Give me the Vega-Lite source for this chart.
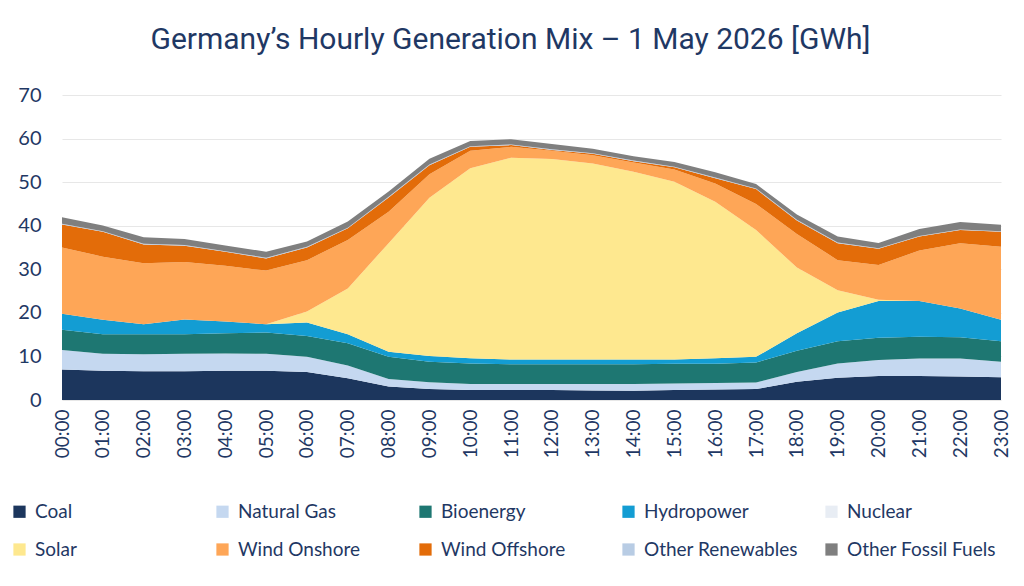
{
  "$schema": "https://vega.github.io/schema/vega-lite/v6.json",
  "width": 939,
  "height": 305,
  "autosize": "none",
  "padding": {"left": 62, "top": 95, "right": 23, "bottom": 186},
  "background": "white",
  "title": {
    "text": "Germany’s Hourly Generation Mix – 1 May 2026 [GWh]",
    "font": "Roboto",
    "fontSize": 30,
    "fontWeight": "normal",
    "color": "#1F3864",
    "anchor": "middle",
    "dx": -21,
    "offset": 30
  },
  "data": {
    "values": [
      {"Hour": "00:00", "Coal": 7.0, "Natural Gas": 4.5, "Bioenergy": 4.6, "Hydropower": 3.7, "Nuclear": 0, "Solar": 0, "Wind Onshore": 15.2, "Wind Offshore": 5.3, "Other Renewables": 0.15, "Other Fossil Fuels": 1.5},
      {"Hour": "01:00", "Coal": 6.7, "Natural Gas": 3.9, "Bioenergy": 4.5, "Hydropower": 3.3, "Nuclear": 0, "Solar": 0, "Wind Onshore": 14.5, "Wind Offshore": 5.7, "Other Renewables": 0.15, "Other Fossil Fuels": 1.3},
      {"Hour": "02:00", "Coal": 6.6, "Natural Gas": 3.9, "Bioenergy": 4.6, "Hydropower": 2.3, "Nuclear": 0, "Solar": 0, "Wind Onshore": 14.0, "Wind Offshore": 4.3, "Other Renewables": 0.15, "Other Fossil Fuels": 1.5},
      {"Hour": "03:00", "Coal": 6.6, "Natural Gas": 4.0, "Bioenergy": 4.5, "Hydropower": 3.4, "Nuclear": 0, "Solar": 0, "Wind Onshore": 13.2, "Wind Offshore": 3.7, "Other Renewables": 0.15, "Other Fossil Fuels": 1.4},
      {"Hour": "04:00", "Coal": 6.7, "Natural Gas": 4.0, "Bioenergy": 4.6, "Hydropower": 2.7, "Nuclear": 0, "Solar": 0, "Wind Onshore": 12.8, "Wind Offshore": 3.2, "Other Renewables": 0.15, "Other Fossil Fuels": 1.3},
      {"Hour": "05:00", "Coal": 6.7, "Natural Gas": 3.9, "Bioenergy": 4.9, "Hydropower": 1.9, "Nuclear": 0, "Solar": 0, "Wind Onshore": 12.3, "Wind Offshore": 2.8, "Other Renewables": 0.15, "Other Fossil Fuels": 1.4},
      {"Hour": "06:00", "Coal": 6.4, "Natural Gas": 3.5, "Bioenergy": 4.8, "Hydropower": 3.1, "Nuclear": 0, "Solar": 2.5, "Wind Onshore": 11.8, "Wind Offshore": 2.9, "Other Renewables": 0.15, "Other Fossil Fuels": 1.2},
      {"Hour": "07:00", "Coal": 5.0, "Natural Gas": 2.9, "Bioenergy": 5.1, "Hydropower": 2.1, "Nuclear": 0, "Solar": 10.5, "Wind Onshore": 11.1, "Wind Offshore": 2.7, "Other Renewables": 0.15, "Other Fossil Fuels": 1.4},
      {"Hour": "08:00", "Coal": 3.1, "Natural Gas": 1.7, "Bioenergy": 5.1, "Hydropower": 1.2, "Nuclear": 0, "Solar": 24.9, "Wind Onshore": 7.2, "Wind Offshore": 3.3, "Other Renewables": 0.15, "Other Fossil Fuels": 1.2},
      {"Hour": "09:00", "Coal": 2.5, "Natural Gas": 1.6, "Bioenergy": 4.7, "Hydropower": 1.3, "Nuclear": 0, "Solar": 36.3, "Wind Onshore": 5.4, "Wind Offshore": 2.1, "Other Renewables": 0.15, "Other Fossil Fuels": 1.3},
      {"Hour": "10:00", "Coal": 2.3, "Natural Gas": 1.4, "Bioenergy": 4.7, "Hydropower": 1.2, "Nuclear": 0, "Solar": 43.6, "Wind Onshore": 4.0, "Wind Offshore": 0.9, "Other Renewables": 0.15, "Other Fossil Fuels": 1.2},
      {"Hour": "11:00", "Coal": 2.3, "Natural Gas": 1.4, "Bioenergy": 4.5, "Hydropower": 1.1, "Nuclear": 0, "Solar": 46.3, "Wind Onshore": 2.5, "Wind Offshore": 0.4, "Other Renewables": 0.15, "Other Fossil Fuels": 1.2},
      {"Hour": "12:00", "Coal": 2.3, "Natural Gas": 1.4, "Bioenergy": 4.5, "Hydropower": 1.1, "Nuclear": 0, "Solar": 46.0, "Wind Onshore": 1.9, "Wind Offshore": 0.2, "Other Renewables": 0.15, "Other Fossil Fuels": 1.2},
      {"Hour": "13:00", "Coal": 2.2, "Natural Gas": 1.5, "Bioenergy": 4.5, "Hydropower": 1.1, "Nuclear": 0, "Solar": 45.0, "Wind Onshore": 1.9, "Wind Offshore": 0.3, "Other Renewables": 0.15, "Other Fossil Fuels": 1.0},
      {"Hour": "14:00", "Coal": 2.1, "Natural Gas": 1.6, "Bioenergy": 4.5, "Hydropower": 1.1, "Nuclear": 0, "Solar": 43.1, "Wind Onshore": 2.1, "Wind Offshore": 0.3, "Other Renewables": 0.15, "Other Fossil Fuels": 1.0},
      {"Hour": "15:00", "Coal": 2.3, "Natural Gas": 1.5, "Bioenergy": 4.5, "Hydropower": 1.0, "Nuclear": 0, "Solar": 40.8, "Wind Onshore": 2.8, "Wind Offshore": 0.5, "Other Renewables": 0.15, "Other Fossil Fuels": 1.1},
      {"Hour": "16:00", "Coal": 2.4, "Natural Gas": 1.5, "Bioenergy": 4.4, "Hydropower": 1.3, "Nuclear": 0, "Solar": 35.9, "Wind Onshore": 4.2, "Wind Offshore": 1.2, "Other Renewables": 0.15, "Other Fossil Fuels": 1.2},
      {"Hour": "17:00", "Coal": 2.5, "Natural Gas": 1.5, "Bioenergy": 4.6, "Hydropower": 1.3, "Nuclear": 0, "Solar": 29.1, "Wind Onshore": 6.0, "Wind Offshore": 3.4, "Other Renewables": 0.15, "Other Fossil Fuels": 1.0},
      {"Hour": "18:00", "Coal": 4.2, "Natural Gas": 2.2, "Bioenergy": 4.9, "Hydropower": 4.0, "Nuclear": 0, "Solar": 15.1, "Wind Onshore": 7.7, "Wind Offshore": 3.1, "Other Renewables": 0.15, "Other Fossil Fuels": 1.2},
      {"Hour": "19:00", "Coal": 5.1, "Natural Gas": 3.3, "Bioenergy": 5.1, "Hydropower": 6.6, "Nuclear": 0, "Solar": 5.1, "Wind Onshore": 6.9, "Wind Offshore": 3.9, "Other Renewables": 0.15, "Other Fossil Fuels": 1.4},
      {"Hour": "20:00", "Coal": 5.5, "Natural Gas": 3.7, "Bioenergy": 5.1, "Hydropower": 8.4, "Nuclear": 0, "Solar": 0.3, "Wind Onshore": 8.0, "Wind Offshore": 3.7, "Other Renewables": 0.15, "Other Fossil Fuels": 1.2},
      {"Hour": "21:00", "Coal": 5.5, "Natural Gas": 4.0, "Bioenergy": 5.0, "Hydropower": 8.2, "Nuclear": 0, "Solar": 0, "Wind Onshore": 11.6, "Wind Offshore": 3.2, "Other Renewables": 0.15, "Other Fossil Fuels": 1.6},
      {"Hour": "22:00", "Coal": 5.4, "Natural Gas": 4.1, "Bioenergy": 4.9, "Hydropower": 6.6, "Nuclear": 0, "Solar": 0, "Wind Onshore": 15.0, "Wind Offshore": 3.0, "Other Renewables": 0.15, "Other Fossil Fuels": 1.7},
      {"Hour": "23:00", "Coal": 5.2, "Natural Gas": 3.6, "Bioenergy": 4.7, "Hydropower": 4.9, "Nuclear": 0, "Solar": 0, "Wind Onshore": 16.8, "Wind Offshore": 3.4, "Other Renewables": 0.15, "Other Fossil Fuels": 1.5}
    ]
  },
  "transform": [
    {"fold": ["Coal", "Natural Gas", "Bioenergy", "Hydropower", "Nuclear", "Solar", "Wind Onshore", "Wind Offshore", "Other Renewables", "Other Fossil Fuels"], "as": ["Source", "GWh"]},
    {"calculate": "indexof(['Coal', 'Natural Gas', 'Bioenergy', 'Hydropower', 'Nuclear', 'Solar', 'Wind Onshore', 'Wind Offshore', 'Other Renewables', 'Other Fossil Fuels'], datum.Source)", "as": "StackRank"}
  ],
  "mark": {"type": "area", "interpolate": "linear"},
  "encoding": {
    "x": {
      "field": "Hour",
      "type": "ordinal",
      "scale": {"type": "point", "padding": 0},
      "axis": {
        "title": null,
        "labelAngle": -90,
        "labelFont": "Lato",
        "labelFontSize": 19,
        "labelColor": "#1F3864",
        "labelPadding": 9,
        "ticks": false,
        "domain": false
      }
    },
    "y": {
      "field": "GWh",
      "type": "quantitative",
      "stack": "zero",
      "scale": {"domain": [0, 70], "nice": false},
      "axis": {
        "title": null,
        "values": [0, 10, 20, 30, 40, 50, 60, 70],
        "grid": true,
        "gridColor": "#E7E7E7",
        "gridWidth": 1,
        "domain": false,
        "ticks": false,
        "labelFont": "Lato",
        "labelFontSize": 20,
        "labelColor": "#1F3864",
        "labelPadding": 21
      }
    },
    "order": {"field": "StackRank", "type": "quantitative", "sort": "ascending"},
    "color": {
      "field": "Source",
      "type": "nominal",
      "sort": ["Coal", "Natural Gas", "Bioenergy", "Hydropower", "Nuclear", "Solar", "Wind Onshore", "Wind Offshore", "Other Renewables", "Other Fossil Fuels"],
      "scale": {
        "domain": ["Coal", "Natural Gas", "Bioenergy", "Hydropower", "Nuclear", "Solar", "Wind Onshore", "Wind Offshore", "Other Renewables", "Other Fossil Fuels"],
        "range": ["#1C365D", "#C5D8F0", "#1E7772", "#139DD3", "#E8EDF4", "#FEE88F", "#FEA657", "#E36C09", "#B8CCE4", "#7F7F7F"]
      },
      "legend": {
        "title": null,
        "orient": "none",
        "legendX": -52,
        "legendY": 407,
        "direction": "horizontal",
        "columns": 5,
        "gridAlign": "all",
        "symbolType": "square",
        "symbolSize": 150,
        "symbolStrokeWidth": 0,
        "labelFont": "Lato",
        "labelFontSize": 19,
        "labelColor": "#1F3864",
        "labelOffset": 6,
        "labelLimit": 300,
        "columnPadding": 24,
        "rowPadding": 18
      }
    }
  },
  "config": {"view": {"stroke": null}}
}
